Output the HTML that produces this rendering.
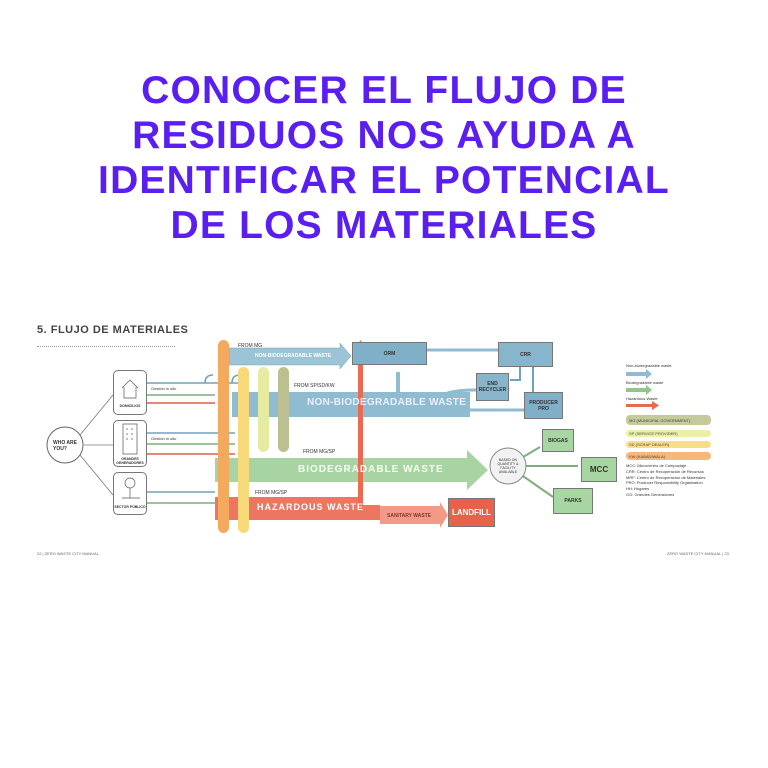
<!DOCTYPE html>
<html><head><meta charset="utf-8"><style>
*{margin:0;padding:0;box-sizing:border-box}
body{width:768px;height:768px;background:#fff;position:relative;overflow:hidden;font-family:"Liberation Sans",sans-serif}
.t{position:absolute;left:0;width:768px;text-align:center;color:#5a1ff0;font-weight:bold;font-size:39px;letter-spacing:1.2px;line-height:45px}
.a{position:absolute}
.s{position:absolute;font-size:5px;color:#333;white-space:nowrap}
.box{position:absolute;border:1px solid #777;display:flex;align-items:center;justify-content:center;text-align:center;font-size:5px;font-weight:bold;color:#333}
.bar{position:absolute;border-radius:6px}
.pill{position:absolute;left:626px;width:85px;border-radius:4px;font-size:4px;padding-left:3px;color:#444;display:flex;align-items:center}
</style></head><body>
<div class="t" style="top:68px">CONOCER EL FLUJO DE<br>RESIDUOS NOS AYUDA A<br>IDENTIFICAR EL POTENCIAL<br>DE LOS MATERIALES</div>

<div class="s" style="left:37px;top:324px;font-size:11px;font-weight:bold;color:#444;letter-spacing:.5px">5. FLUJO DE MATERIALES</div>
<div class="a" style="left:37px;top:346px;width:138px;border-top:1px dotted #999"></div>

<svg class="a" style="left:0;top:0" width="768" height="768">
<g stroke="#777" stroke-width="0.8" fill="none">
<line x1="80" y1="435" x2="113" y2="395"/><line x1="84" y1="445" x2="113" y2="445"/><line x1="80" y1="455" x2="113" y2="495"/>
</g>
<circle cx="65" cy="445" r="18" fill="#fff" stroke="#666"/>
<polygon points="229,348 340,348 340,343 351,356 340,369 340,365 229,365" fill="#9cc3d6" stroke="#7aa" stroke-width=".5"/>
<polygon points="232,392 470,392 470,417 232,417" fill="#8fbcd1"/>
<polygon points="215,458 467,458 467,450 488,470 467,490 467,482 215,482" fill="#a8d4a3"/>
<polygon points="215,497 360,497 360,505 380,505 380,520 215,520" fill="#ec7660"/>
<polygon points="380,506 440,506 440,502 448,515 440,528 440,524 380,524" fill="#f29a85"/>
<polygon points="358,510 358,352 354,352 360.5,340 367,352 363,352 363,510" fill="#ea6b52"/>
<g stroke-width="1.6" fill="none">
<path d="M147,383 H245" stroke="#6fa2bb"/><path d="M147,395 H215" stroke="#7fae7d"/><path d="M147,403 H215" stroke="#d9604b"/>
<path d="M147,433 H235" stroke="#6fa2bb"/><path d="M147,444 H235" stroke="#7fae7d"/><path d="M147,454 H235" stroke="#d9604b"/>
<path d="M147,492 H215" stroke="#6fa2bb"/><path d="M147,503 H215" stroke="#7fae7d"/>
<path d="M205,383 q0,-8 8,-8" stroke="#6fa2bb"/><path d="M232,383 q0,-8 8,-8" stroke="#6fa2bb"/>
<path d="M398,392 V372" stroke="#8fbcd1" stroke-width="4"/>
<path d="M440,400 q0,-10 36,-10" stroke="#8fbcd1" stroke-width="3"/>
<path d="M440,410 q0,0 84,0" stroke="#8fbcd1" stroke-width="3"/>
<path d="M427,350 H498" stroke="#8fbcd1" stroke-width="3"/>
<path d="M520,367 V380 H510" stroke="#6fa2bb" stroke-width="2"/>
<path d="M533,367 V392" stroke="#6fa2bb" stroke-width="2"/>
<path d="M518,460 L540,447" stroke="#7fae7d" stroke-width="2"/>
<path d="M526,466 L578,466" stroke="#7fae7d" stroke-width="2"/>
<path d="M520,474 L553,497" stroke="#7fae7d" stroke-width="2"/>
</g>
<g stroke="#555" stroke-width=".7" fill="none">
<path d="M122,388 L130,380 L138,388 M124,387 V398 H136 V387"/>
<rect x="123" y="424" width="14" height="30"/><path d="M126,429h2m3,0h2m-7,5h2m3,0h2m-7,5h2m3,0h2"/>
<circle cx="130" cy="483" r="5"/><path d="M130,488 V498 M122,498 H140"/>
</g>
<circle cx="508" cy="466" r="18" fill="#f2f2f2" stroke="#888"/>
<rect x="626" y="372" width="20" height="4" fill="#8fbcd1"/><polygon points="646,369 652,374 646,379" fill="#8fbcd1"/>
<rect x="626" y="388" width="20" height="4" fill="#8fc78a"/><polygon points="646,385 652,390 646,395" fill="#8fc78a"/>
<rect x="626" y="404" width="26" height="3" fill="#e8694e"/><polygon points="652,401 659,405.5 652,410" fill="#e8694e"/>
</svg>

<div class="box" style="left:113px;top:370px;width:34px;height:45px;border-radius:5px;background:transparent;align-items:flex-end;font-size:3.5px;padding-bottom:6px">DOMICILIOS</div>
<div class="box" style="left:113px;top:420px;width:34px;height:47px;border-radius:5px;background:transparent;align-items:flex-end;font-size:3.5px;padding-bottom:1px">GRANDES GENERADORES</div>
<div class="box" style="left:113px;top:472px;width:34px;height:43px;border-radius:5px;background:transparent;align-items:flex-end;font-size:3.5px;padding-bottom:5px">SECTOR PÚBLICO</div>
<div class="s" style="left:53px;top:440px;font-weight:bold">WHO ARE<br>YOU?</div>
<div class="s" style="left:151px;top:386px;font-size:4px">Gestión in situ</div>
<div class="s" style="left:151px;top:436px;font-size:4px">Gestión in situ</div>

<div class="bar" style="left:218px;top:340px;width:11px;height:193px;background:#f3aa5e"></div>
<div class="bar" style="left:238px;top:367px;width:11px;height:166px;background:#f7d97a"></div>
<div class="bar" style="left:258px;top:367px;width:11px;height:85px;background:#e6eba2"></div>
<div class="bar" style="left:278px;top:367px;width:11px;height:85px;background:#bcc091"></div>

<div class="s" style="left:238px;top:343px">FROM MG</div>
<div class="s" style="left:255px;top:353px;color:#fff;font-weight:bold">NON-BIODEGRADABLE WASTE</div>
<div class="s" style="left:294px;top:383px">FROM SP/SD/KW</div>
<div class="s" style="left:307px;top:397px;font-size:10px;font-weight:bold;color:#eef;letter-spacing:.3px">NON-BIODEGRADABLE WASTE</div>
<div class="s" style="left:303px;top:449px">FROM MG/SP</div>
<div class="s" style="left:298px;top:464px;font-size:10px;font-weight:bold;color:#f4fff2;letter-spacing:1px">BIODEGRADABLE WASTE</div>
<div class="s" style="left:255px;top:490px">FROM MG/SP</div>
<div class="s" style="left:257px;top:502px;font-size:9px;font-weight:bold;color:#fff;letter-spacing:1px">HAZARDOUS WASTE</div>
<div class="s" style="left:387px;top:513px;color:#833;font-weight:bold">SANITARY WASTE</div>

<div class="box" style="left:352px;top:342px;width:75px;height:23px;background:#7fb0c8">ORM</div>
<div class="box" style="left:498px;top:342px;width:55px;height:25px;background:#86b5cc">CRR</div>
<div class="box" style="left:476px;top:373px;width:33px;height:28px;background:#86b5cc">END<br>RECYCLER</div>
<div class="box" style="left:524px;top:392px;width:39px;height:27px;background:#7fb0c8">PRODUCER<br>PRO</div>
<div class="box" style="left:542px;top:429px;width:32px;height:23px;background:#a8d6a2">BIOGAS</div>
<div class="box" style="left:581px;top:457px;width:36px;height:25px;background:#a8d6a2;font-size:8px">MCC</div>
<div class="box" style="left:553px;top:488px;width:40px;height:26px;background:#a8d6a2">PARKS</div>
<div class="box" style="left:448px;top:498px;width:47px;height:29px;background:#e8614a;font-size:8px;color:#fff">LANDFILL</div>
<div class="s" style="left:497px;top:458px;font-size:3.5px;text-align:center;width:22px;white-space:normal">BASED ON QUANTITY &amp; FACILITY AVAILABLE</div>

<div class="s" style="left:626px;top:363px;font-size:4px">Non-biodegradable waste</div>
<div class="s" style="left:626px;top:380px;font-size:4px">Biodegradable waste</div>
<div class="s" style="left:626px;top:396px;font-size:4px">Hazardous Waste</div>
<div class="pill" style="top:415px;height:10px;background:#c6c99c">MG (MUNICIPAL GOVERNMENT)</div>
<div class="pill" style="top:430px;height:7px;background:#eaf0a6">SP (SERVICE PROVIDER)</div>
<div class="pill" style="top:441px;height:7px;background:#f9dd8a">SD (SCRAP DEALER)</div>
<div class="pill" style="top:452px;height:8px;background:#f6b87a">KW (KABADIWALA)</div>
<div class="s" style="left:626px;top:463px;font-size:4px;line-height:5.8px">MCC: Microcentro de Compostaje<br>CRR: Centro de Recuperación de Recursos<br>MRF: Centro de Recuperación de Materiales<br>PRO: Producer Responsibility Organisation<br>HH: Hogares<br>GG: Grandes Generadores</div>

<div class="s" style="left:37px;top:551px;font-size:4px;color:#666">22 | ZERO WASTE CITY MANUAL</div>
<div class="s" style="left:667px;top:551px;font-size:4px;color:#666">ZERO WASTE CITY MANUAL | 23</div>
</body></html>
